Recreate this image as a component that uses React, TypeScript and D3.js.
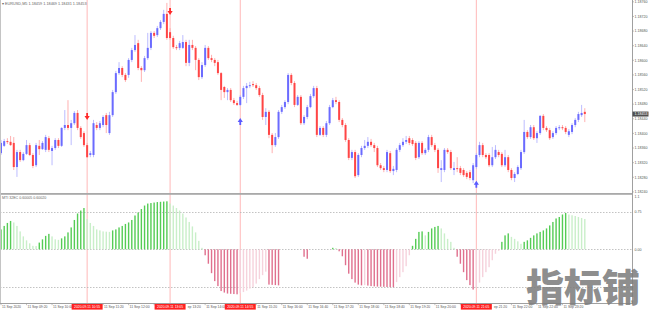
import React from "react";
import * as d3 from "d3";

// ---------- data ----------
const symbolTitle = "EURUSD,M5";
const indicatorTitle = "MTI 32EC 0.60005 0.60020";
const startTime = "08:40"; // first bar, 5-minute bars, 11 Sep 2020

const opens = [1.18346,1.18366,1.18379,1.18377,1.18374,1.18308,1.18349,1.18327,1.18344,1.18368,
1.18341,1.18313,1.18366,1.18357,1.18355,1.18387,1.18352,1.18360,1.18382,1.18366,
1.18415,1.18423,1.18415,1.18428,1.18456,1.18415,1.18401,1.18368,1.18341,1.18341,
1.18423,1.18415,1.18423,1.18450,1.18401,1.18450,1.18513,1.18565,1.18579,1.18560,
1.18560,1.18601,1.18628,1.18647,1.18579,1.18573,1.18606,1.18634,1.18675,1.18669,
1.18688,1.18705,1.18727,1.18677,1.18661,1.18636,1.18634,1.18634,1.18650,1.18593,
1.18642,1.18634,1.18601,1.18554,1.18587,1.18634,1.18606,1.18601,1.18595,1.18565,
1.18527,1.18513,1.18519,1.18491,1.18483,1.18478,1.18500,1.18524,1.18530,1.18535,
1.18532,1.18524,1.18505,1.18445,1.18459,1.18396,1.18368,1.18390,1.18459,1.18472,
1.18486,1.18560,1.18538,1.18478,1.18500,1.18428,1.18445,1.18472,1.18502,1.18524,
1.18396,1.18415,1.18396,1.18428,1.18472,1.18491,1.18486,1.18437,1.18423,1.18382,
1.18333,1.18349,1.18286,1.18341,1.18360,1.18366,1.18377,1.18368,1.18360,1.18313,
1.18305,1.18300,1.18346,1.18297,1.18300,1.18355,1.18368,1.18377,1.18387,1.18382,
1.18374,1.18335,1.18374,1.18346,1.18355,1.18390,1.18368,1.18355,1.18300,1.18300,
1.18355,1.18349,1.18300,1.18305,1.18305,1.18300,1.18292,1.18294,1.18272,1.18308,
1.18341,1.18368,1.18341,1.18341,1.18313,1.18335,1.18349,1.18344,1.18313,1.18335,
1.18300,1.18278,1.18289,1.18305,1.18349,1.18404,1.18390,1.18417,1.18387,1.18401,
1.18448,1.18415,1.18409,1.18390,1.18401,1.18415,1.18417,1.18415,1.18396,1.18404,
1.18423,1.18437,1.18450,1.18459];

const highs = [1.18382,1.18385,1.18387,1.18393,1.18390,1.18355,1.18355,1.18349,1.18382,1.18374,
1.18346,1.18374,1.18382,1.18379,1.18396,1.18393,1.18366,1.18387,1.18387,1.18417,
1.18464,1.18491,1.18437,1.18461,1.18464,1.18420,1.18406,1.18374,1.18352,1.18437,
1.18431,1.18434,1.18450,1.18456,1.18459,1.18519,1.18571,1.18595,1.18584,1.18565,
1.18606,1.18634,1.18669,1.18656,1.18584,1.18612,1.18675,1.18680,1.18680,1.18694,
1.18710,1.18738,1.18757,1.18688,1.18667,1.18642,1.18653,1.18669,1.18656,1.18656,
1.18656,1.18639,1.18606,1.18595,1.18642,1.18639,1.18615,1.18606,1.18601,1.18568,
1.18530,1.18524,1.18524,1.18497,1.18489,1.18505,1.18530,1.18538,1.18541,1.18543,
1.18538,1.18530,1.18511,1.18469,1.18464,1.18401,1.18401,1.18464,1.18478,1.18491,
1.18565,1.18565,1.18543,1.18505,1.18505,1.18450,1.18478,1.18508,1.18530,1.18530,
1.18420,1.18420,1.18434,1.18478,1.18497,1.18500,1.18491,1.18442,1.18428,1.18387,
1.18355,1.18355,1.18346,1.18366,1.18382,1.18390,1.18385,1.18374,1.18366,1.18319,
1.18311,1.18355,1.18352,1.18311,1.18360,1.18374,1.18387,1.18393,1.18393,1.18387,
1.18379,1.18379,1.18379,1.18360,1.18396,1.18396,1.18374,1.18360,1.18327,1.18360,
1.18360,1.18355,1.18322,1.18335,1.18311,1.18305,1.18297,1.18300,1.18319,1.18346,
1.18377,1.18374,1.18346,1.18346,1.18363,1.18368,1.18355,1.18349,1.18355,1.18341,
1.18305,1.18294,1.18313,1.18355,1.18437,1.18409,1.18423,1.18423,1.18406,1.18450,
1.18453,1.18420,1.18415,1.18406,1.18420,1.18423,1.18423,1.18420,1.18412,1.18428,
1.18442,1.18459,1.18478,1.18469];

const lows = [1.18341,1.18363,1.18371,1.18366,1.18300,1.18281,1.18322,1.18324,1.18341,1.18338,
1.18305,1.18308,1.18341,1.18355,1.18349,1.18349,1.18313,1.18355,1.18360,1.18363,
1.18409,1.18409,1.18368,1.18423,1.18409,1.18385,1.18363,1.18333,1.18335,1.18335,
1.18409,1.18409,1.18417,1.18401,1.18396,1.18445,1.18508,1.18560,1.18554,1.18541,
1.18552,1.18595,1.18623,1.18573,1.18541,1.18568,1.18601,1.18628,1.18661,1.18664,
1.18683,1.18699,1.18656,1.18656,1.18631,1.18628,1.18628,1.18631,1.18584,1.18584,
1.18628,1.18573,1.18546,1.18549,1.18582,1.18601,1.18595,1.18584,1.18560,1.18491,
1.18497,1.18491,1.18486,1.18478,1.18475,1.18475,1.18494,1.18483,1.18524,1.18527,
1.18519,1.18500,1.18437,1.18423,1.18387,1.18346,1.18363,1.18385,1.18453,1.18467,
1.18480,1.18532,1.18472,1.18475,1.18423,1.18423,1.18439,1.18469,1.18497,1.18390,
1.18393,1.18390,1.18390,1.18423,1.18469,1.18480,1.18431,1.18417,1.18377,1.18327,
1.18327,1.18278,1.18281,1.18335,1.18355,1.18360,1.18363,1.18349,1.18308,1.18300,
1.18294,1.18294,1.18292,1.18286,1.18294,1.18349,1.18363,1.18371,1.18368,1.18366,
1.18327,1.18330,1.18341,1.18341,1.18349,1.18363,1.18349,1.18292,1.18267,1.18294,
1.18344,1.18300,1.18286,1.18294,1.18286,1.18281,1.18275,1.18272,1.18264,1.18303,
1.18335,1.18335,1.18330,1.18308,1.18308,1.18330,1.18335,1.18308,1.18308,1.18294,
1.18272,1.18267,1.18286,1.18300,1.18344,1.18385,1.18385,1.18382,1.18374,1.18396,
1.18409,1.18404,1.18382,1.18385,1.18396,1.18409,1.18409,1.18398,1.18390,1.18398,
1.18417,1.18431,1.18445,1.18431];

const closes = [1.18374,1.18379,1.18377,1.18368,1.18308,1.18349,1.18327,1.18344,1.18368,1.18341,
1.18311,1.18368,1.18357,1.18374,1.18390,1.18355,1.18360,1.18382,1.18366,1.18415,
1.18423,1.18415,1.18428,1.18456,1.18415,1.18390,1.18368,1.18335,1.18346,1.18428,
1.18415,1.18428,1.18445,1.18423,1.18450,1.18513,1.18565,1.18579,1.18560,1.18546,
1.18601,1.18628,1.18642,1.18579,1.18573,1.18606,1.18634,1.18675,1.18667,1.18688,
1.18705,1.18727,1.18661,1.18661,1.18636,1.18634,1.18647,1.18650,1.18593,1.18642,
1.18634,1.18601,1.18554,1.18587,1.18634,1.18606,1.18601,1.18593,1.18565,1.18519,
1.18513,1.18519,1.18491,1.18483,1.18478,1.18500,1.18524,1.18530,1.18532,1.18532,
1.18524,1.18505,1.18445,1.18459,1.18396,1.18368,1.18390,1.18459,1.18472,1.18486,
1.18560,1.18538,1.18478,1.18500,1.18428,1.18445,1.18472,1.18502,1.18524,1.18396,
1.18415,1.18396,1.18428,1.18472,1.18491,1.18486,1.18437,1.18423,1.18382,1.18333,
1.18349,1.18283,1.18341,1.18360,1.18366,1.18377,1.18368,1.18360,1.18313,1.18305,
1.18300,1.18349,1.18297,1.18303,1.18355,1.18368,1.18377,1.18382,1.18374,1.18371,
1.18333,1.18374,1.18346,1.18355,1.18390,1.18368,1.18355,1.18305,1.18305,1.18355,
1.18349,1.18305,1.18305,1.18303,1.18292,1.18286,1.18281,1.18278,1.18313,1.18341,
1.18368,1.18341,1.18335,1.18313,1.18335,1.18355,1.18341,1.18313,1.18335,1.18300,
1.18278,1.18289,1.18308,1.18349,1.18404,1.18390,1.18417,1.18387,1.18401,1.18448,
1.18415,1.18409,1.18387,1.18401,1.18415,1.18417,1.18415,1.18404,1.18406,1.18423,
1.18437,1.18453,1.18456,1.18453];

const oscValues = [0.40,0.47,0.53,0.57,0.54,0.47,0.36,0.26,0.18,0.12,
0.07,0.065,0.135,0.20,0.27,0.31,0.26,0.20,0.19,0.22,
0.26,0.34,0.44,0.59,0.72,0.78,0.83,0.61,0.53,0.47,
0.40,0.38,0.36,0.355,0.35,0.38,0.40,0.44,0.47,0.51,
0.54,0.59,0.68,0.74,0.81,0.88,0.92,0.93,0.94,0.95,
0.955,0.96,0.965,0.92,0.88,0.83,0.78,0.72,0.64,0.55,
0.46,0.34,0.17,0.03,-0.12,-0.29,-0.48,-0.64,-0.74,-0.84,
-0.87,-0.89,-0.895,-0.90,-0.905,-0.88,-0.86,-0.83,-0.79,-0.76,
-0.69,-0.60,-0.52,-0.45,-0.71,-0.715,-0.72,-0.725,0,0,
0,0,0,0,0,-0.15,-0.19,0,0,0,
0,0,0,0,0.03,0.025,-0.04,-0.14,-0.32,-0.49,
-0.60,-0.67,-0.71,-0.725,-0.72,-0.73,-0.74,-0.745,-0.75,-0.752,
-0.755,-0.758,-0.76,-0.762,-0.66,-0.56,-0.46,-0.34,-0.12,0.07,
0.21,0.35,0.36,0.28,0.35,0.42,0.45,0.47,0.42,0.32,
0.21,0.15,0.03,-0.15,-0.29,-0.46,-0.62,-0.72,-0.81,-0.76,
-0.67,-0.56,-0.46,-0.36,-0.22,-0.09,-0.03,0.15,0.28,0.32,
0.25,0.21,0.16,0.11,0.15,0.18,0.23,0.28,0.32,0.35,
0.38,0.42,0.48,0.55,0.62,0.65,0.70,0.73,0.70,0.685,
0.67,0.65,0.63,0.61];

const priceTicks = [1.1876,1.1872,1.1868,1.1864,1.186,1.1856,1.1852,1.1848,1.1844,1.184,1.1836,1.1832,1.1828,1.1824];
const oscLevels = [0.75, 0, -0.75];
const oscTickLabels = ["1.1", "0.75", "0.00"];
const oscTickValues = [1.1, 0.75, 0];

const tickTimes = ["08:40","09:20","10:00","10:40","11:20","12:00","12:40","13:20","14:00","14:40","15:20","16:00",
"16:40","17:20","18:00","18:40","19:20","20:00","20:40","21:20","22:00","22:40","23:20"];
const tickLabels = ["11 Sep 2020","11 Sep 09:20","11 Sep 10:00","11 Sep 10:40","11 Sep 11:20","11 Sep 12:00","11 Sep 12:40",
"11 Sep 13:20","11 Sep 14:00","11 Sep 14:40","11 Sep 15:20","11 Sep 16:00","11 Sep 16:40","11 Sep 17:20","11 Sep 18:00",
"11 Sep 18:40","11 Sep 19:20","11 Sep 20:00","11 Sep 20:40","11 Sep 21:20","11 Sep 22:00","11 Sep 22:40","11 Sep 23:20"];

const markerTimes = ["10:55", "13:05", "14:55", "21:05"];
const markerLabels = ["2020.09.11 10:55", "2020.09.11 13:05", "2020.09.11 14:55", "2020.09.11 21:05"];
const arrowPrices = [1.18445, 1.18732, 1.18434, 1.18262];
const arrowDirs = ["down", "down", "up", "up"];

// ---------- helpers ----------
const toMin = (t: string) => {
  const [h, m] = t.split(":").map(Number);
  return h * 60 + m;
};
const barOf = (t: string) => (toMin(t) - toMin(startTime)) / 5;

// rough Arial advance widths (em)
const charW = (ch: string) => {
  if (/[0-9]/.test(ch)) return 0.556;
  if (ch === " " || ch === ":" || ch === ".") return 0.278;
  if (ch === "S") return 0.667;
  return 0.556;
};
const textW = (s: string, fs: number) => s.split("").reduce((a, c) => a + charW(c), 0) * fs;

const W = 655;
const H = 316;
const AXIS_X = 632;
const FONT = "'Liberation Sans', Arial, sans-serif";
const LABEL_FS = 3.4;
const BOX_W = 31;

const BLUE = "#6b6bff";
const BLUE_WICK = "#b4b4ff";
const RED = "#ff4545";
const RED_WICK = "#ffa8a8";

export default function App() {
  const n = closes.length;
  const x = d3.scaleLinear().domain([0, n - 1]).range([1, 584.8]);
  const y = d3.scaleLinear().domain([1.18237, 1.18765]).range([193, 0]);
  const yo = d3.scaleLinear().domain([-1.1, 1.1]).range([304, 194.6]);
  const last = closes[n - 1];
  const f5 = d3.format(".5f");

  const titleText = `▾ ${symbolTitle}  ${f5(opens[n - 1])} ${f5(highs[n - 1])} ${f5(lows[n - 1])} ${f5(last)}`;

  const boxes = markerTimes.map((t) => [x(barOf(t)) - BOX_W / 2, x(barOf(t)) + BOX_W / 2]);

  // time labels, hidden / clipped by the red marker boxes as on the reference
  const timeTexts = tickTimes
    .map((t, i) => {
      const x0 = x(barOf(t)) + 1;
      const full = tickLabels[i];
      const x1 = x0 + textW(full, LABEL_FS);
      const box = boxes.find((b) => x0 >= b[0] - 0.5 && x0 <= b[1]);
      if (!box) return { x: x0, text: full, anchor: "start" };
      const short = full.slice(4); // "ep HH:MM"
      if (x1 - textW(short, LABEL_FS) >= box[1] + 0.5) return { x: x1, text: short, anchor: "end" };
      return null;
    })
    .filter(Boolean) as { x: number; text: string; anchor: string }[];

  return (
    <svg width={W} height={H} style={{ position: "absolute", left: 0, top: 0, background: "#fff" }} fontFamily={FONT}>
      <rect x={0} y={0} width={W} height={H} fill="#fff" />

      {/* marker vertical lines */}
      {markerTimes.map((t, i) => (
        <line key={"ml" + i} x1={x(barOf(t))} x2={x(barOf(t))} y1={0} y2={304} stroke="#ffb8b8" strokeWidth={1} />
      ))}

      {/* oscillator levels */}
      {oscLevels.map((v, i) => (
        <line key={"lv" + i} x1={0} x2={AXIS_X} y1={Math.round(yo(v)) + 0.5} y2={Math.round(yo(v)) + 0.5}
          stroke="#b4b4b4" strokeWidth={0.8} strokeDasharray="1.5,1.5" />
      ))}

      {/* oscillator histogram */}
      {oscValues.map((v, i) => {
        if (v === 0) return null;
        const prev = i > 0 ? oscValues[i - 1] : 0;
        let color: string;
        if (v > 0) color = v >= prev ? "#55cc55" : "#c9efc9";
        else color = v <= prev ? "#e0708e" : "#f6d2dc";
        const y0 = yo(0);
        const y1 = yo(v);
        return (
          <rect key={"o" + i} x={x(i) - 0.7} width={1.4} y={Math.min(y0, y1)} height={Math.abs(y1 - y0)} fill={color} />
        );
      })}

      {/* candles */}
      {closes.map((c, i) => {
        const o = opens[i];
        const up = c >= o;
        const cx = x(i);
        const top = y(Math.max(o, c));
        const bot = y(Math.min(o, c));
        return (
          <g key={"c" + i}>
            <line x1={cx} x2={cx} y1={y(highs[i])} y2={y(lows[i])} stroke={up ? BLUE_WICK : RED_WICK} strokeWidth={0.9} />
            <rect x={cx - 1} width={2} y={top} height={Math.max(1, bot - top)} fill={up ? BLUE : RED} />
          </g>
        );
      })}

      {/* arrows */}
      {markerTimes.map((t, i) => {
        const cx = x(barOf(t));
        const cy = y(arrowPrices[i]);
        const down = arrowDirs[i] === "down";
        const col = down ? "#ff2a2a" : "#5a5aff";
        const d = down
          ? `M${cx - 0.9},${cy - 4} h1.8 v3 h1.7 L${cx},${cy + 3} L${cx - 2.6},${cy - 1} h1.7 Z`
          : `M${cx - 0.9},${cy + 4} h1.8 v-3 h1.7 L${cx},${cy - 3} L${cx - 2.6},${cy + 1} h1.7 Z`;
        return <path key={"a" + i} d={d} fill={col} />;
      })}

      {/* panel separators and borders */}
      <rect x={0} y={193} width={AXIS_X} height={1.8} fill="#a9a9a9" />
      <line x1={0.5} x2={0.5} y1={0} y2={304} stroke="#c4c4c4" strokeWidth={1} />
      <line x1={AXIS_X + 0.5} x2={AXIS_X + 0.5} y1={0} y2={304} stroke="#a0a0a0" strokeWidth={1} />
      <line x1={0} x2={AXIS_X + 1} y1={303.5} y2={303.5} stroke="#a0a0a0" strokeWidth={1} />

      {/* titles */}
      <text x={2} y={4.6} fontSize={3.8} fill="#666">{titleText}</text>
      <text x={2} y={199} fontSize={3.6} fill="#666">{indicatorTitle}</text>

      {/* price axis */}
      {priceTicks.map((p, i) => (
        <g key={"pt" + i}>
          <line x1={AXIS_X} x2={AXIS_X + 2} y1={y(p)} y2={y(p)} stroke="#999" strokeWidth={0.6} />
          <text x={AXIS_X + 2.5} y={y(p) + 1.3} fontSize={3.6} fill="#555">{f5(p)}</text>
        </g>
      ))}
      <rect x={AXIS_X + 0.5} y={y(last) - 2.5} width={16} height={5} fill="#505050" />
      <text x={AXIS_X + 2.5} y={y(last) + 1.3} fontSize={3.6} fill="#fff">{f5(last)}</text>

      {/* oscillator axis */}
      {oscTickValues.map((v, i) => (
        <text key={"ot" + i} x={AXIS_X + 2.5} y={i === 0 ? yo(v) + 3.5 : yo(v) + 1.3} fontSize={3.6} fill="#555">{oscTickLabels[i]}</text>
      ))}

      {/* time axis */}
      {tickTimes.map((t, i) => (
        <line key={"tk" + i} x1={x(barOf(t))} x2={x(barOf(t))} y1={303.5} y2={305.2} stroke="#999" strokeWidth={0.6} />
      ))}
      {timeTexts.map((d, i) => (
        <text key={"tt" + i} x={d.x} y={308.3} fontSize={LABEL_FS} fill="#555" textAnchor={d.anchor as any}>{d.text}</text>
      ))}
      {markerTimes.map((t, i) => (
        <g key={"mb" + i}>
          <rect x={boxes[i][0]} y={304} width={BOX_W} height={5.6} fill="#ff2020" />
          <text x={x(barOf(t))} y={308.3} fontSize={LABEL_FS} fill="#fff" textAnchor="middle">{markerLabels[i]}</text>
        </g>
      ))}

      {/* watermark */}
      <text x={526} y={300.5} fontSize={38} fontWeight={900} fill="#7e7e7e" fillOpacity={0.9}
        fontFamily="'Noto Sans CJK SC', 'Noto Sans CJK JP', sans-serif">指标铺</text>
    </svg>
  );
}
